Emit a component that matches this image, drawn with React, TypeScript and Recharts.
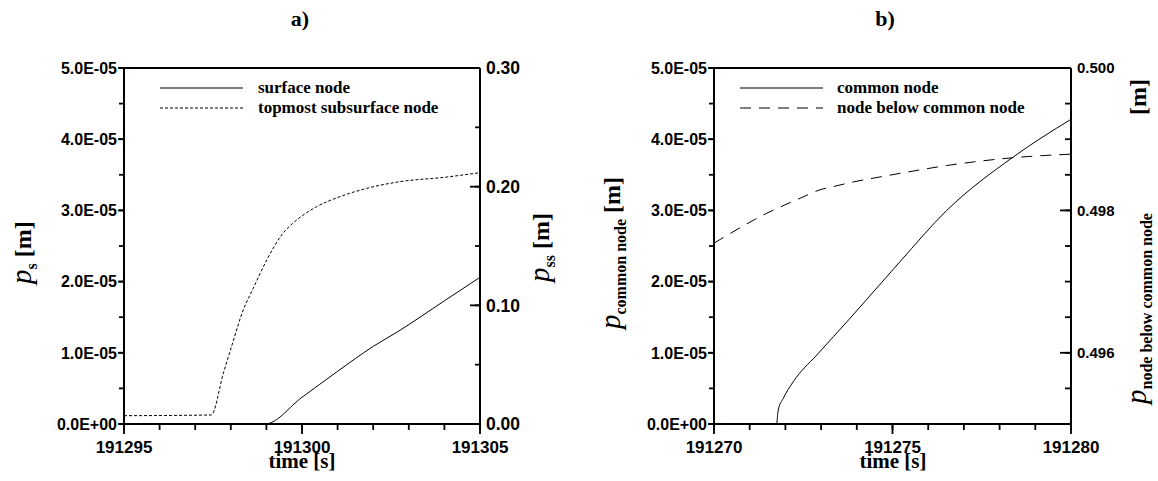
import React from "react";
import { LineChart, Line, XAxis, YAxis, ReferenceLine } from "recharts";

const SANS = '"Liberation Sans", Arial, sans-serif';
const SERIF = '"Liberation Serif", "Times New Roman", serif';

// ---- panel a) ----
const surfaceTime = [191295, 191298.96, 191300, 191301, 191302, 191302.7, 191304, 191305];
const surfaceP = [0, 0, 3.75e-6, 7.4e-6, 1.09e-5, 1.3e-5, 1.73e-5, 2.06e-5];

const subsurfaceTime = [
  191295, 191297.45, 191297.79, 191298.02, 191298.35, 191298.63, 191299.01,
  191299.43, 191299.85, 191300.41, 191301.07, 191301.82, 191302.75, 191304, 191305,
];
const subsurfaceP = [
  0.007, 0.0076, 0.0427, 0.0652, 0.0961, 0.1143, 0.1382, 0.1593, 0.1719, 0.1831,
  0.1916, 0.1986, 0.2042, 0.2079, 0.2118,
];

const xTicksA = [191295, 191296, 191297, 191298, 191299, 191300, 191301, 191302, 191303, 191304, 191305];
const xLabelsA = [191295, 191300, 191305];
const yTicksSS = [0, 0.05, 0.1, 0.15, 0.2, 0.25, 0.3];
const yLabelsSS = [0, 0.1, 0.2, 0.3];

// ---- panel b) ----
const commonTime = [
  191271.76, 191271.8, 191271.94, 191272.22, 191272.88, 191273.81, 191274.7,
  191275.21, 191276.52, 191278.38, 191280,
];
const commonP = [0, 1.97e-6, 3.6e-6, 5.94e-6, 9.69e-6, 1.484e-5, 1.99e-5, 2.28e-5, 3.0e-5, 3.75e-5, 4.28e-5];

const belowTime = [
  191270, 191271.48, 191272.41, 191272.97, 191273.39, 191273.81, 191274.65,
  191275.21, 191276.52, 191278.38, 191280,
];
const belowP = [
  0.49754, 0.49796, 0.49817, 0.49829, 0.49834, 0.49839, 0.49847, 0.49852,
  0.49863, 0.49874, 0.49879,
];

const xTicksB = [191270, 191271, 191272, 191273, 191274, 191275, 191276, 191277, 191278, 191279, 191280];
const xLabelsB = [191270, 191275, 191280];
const yTicksBelow = [0.495, 0.4955, 0.496, 0.4965, 0.497, 0.4975, 0.498, 0.4985, 0.499, 0.4995, 0.5];
const yLabelsBelow = [0.496, 0.498, 0.5];

// shared left axis
const yTicksP = [0, 5e-6, 1e-5, 1.5e-5, 2e-5, 2.5e-5, 3e-5, 3.5e-5, 4e-5, 4.5e-5, 5e-5];
const yLabelsP = [0, 1e-5, 2e-5, 3e-5, 4e-5, 5e-5];

const zip = (ts: number[], ps: number[]) => ts.map((t, i) => ({ t, p: ps[i] }));

const sci = (v: number) => {
  if (v === 0) return "0.0E+00";
  const e = Math.floor(Math.log10(Math.abs(v)) + 1e-9);
  const m = v / Math.pow(10, e);
  return `${m.toFixed(1)}E${e < 0 ? "-" : "+"}${String(Math.abs(e)).padStart(2, "0")}`;
};

type TickOpts = {
  side: "left" | "right" | "bottom";
  size: number; // the tickSize handed to recharts (minor tick length, negative = inward)
  labels: number[];
  major: number;
  fontSize: number;
  fmt: (v: number) => string;
};

const same = (a: number, b: number) => Math.abs(a - b) <= Math.abs(b) * 1e-9 + 1e-15;

// recharts draws the short ticks; this adds the long major tick and its label
const makeTick = (o: TickOpts) => (props: any) => {
  const v = Number(props.payload.value);
  if (!o.labels.some((l) => same(v, l))) return <g />;
  const font = { fill: "#000", stroke: "none", fontFamily: SANS, fontWeight: 700, fontSize: o.fontSize };
  if (o.side === "bottom") {
    const x = Number(props.x);
    const ay = Number(props.y) - o.size;
    return (
      <g>
        <path d={`M${x},${ay}L${x},${ay + o.major}`} fill="none" stroke="#000" strokeWidth={1.8} />
        <text x={x} y={ay + 29} textAnchor="middle" {...font}>
          {o.fmt(v)}
        </text>
      </g>
    );
  }
  const y = Number(props.y);
  if (o.side === "left") {
    const ax = Number(props.x) + o.size;
    return (
      <g>
        <path d={`M${ax},${y}L${ax - o.major},${y}`} fill="none" stroke="#000" strokeWidth={1.8} />
        <text x={ax - 7} y={y} dy="0.36em" textAnchor="end" {...font}>
          {o.fmt(v)}
        </text>
      </g>
    );
  }
  const ax = Number(props.x) - o.size;
  return (
    <g>
      <path d={`M${ax},${y}L${ax - o.major},${y}`} fill="none" stroke="#000" strokeWidth={1.8} />
      <text x={ax + 6} y={y} dy="0.36em" textAnchor="start" {...font}>
        {o.fmt(v)}
      </text>
    </g>
  );
};

const axisLine = { stroke: "#000", strokeWidth: 2 };
const tickLine = { stroke: "#000", strokeWidth: 1.8 };

const PanelA = () => (
  <LineChart width={580} height={481} margin={{ top: 68, right: 0, bottom: 0, left: 0 }}>
    <XAxis
      dataKey="t"
      type="number"
      domain={[191295, 191305]}
      ticks={xTicksA}
      interval={0}
      height={57}
      tickSize={6}
      tickMargin={0}
      tickLine={tickLine}
      axisLine={axisLine}
      tick={makeTick({ side: "bottom", size: 6, labels: xLabelsA, major: 10, fontSize: 17, fmt: String })}
    />
    <YAxis
      yAxisId="left"
      type="number"
      domain={[0, 5e-5]}
      ticks={yTicksP}
      interval={0}
      width={124}
      tickSize={5}
      tickMargin={0}
      tickLine={tickLine}
      axisLine={axisLine}
      tick={makeTick({ side: "left", size: 5, labels: yLabelsP, major: 6, fontSize: 16, fmt: sci })}
    />
    <YAxis
      yAxisId="right"
      orientation="right"
      type="number"
      domain={[0, 0.3]}
      ticks={yTicksSS}
      interval={0}
      width={100}
      tickSize={-5}
      tickMargin={0}
      tickLine={tickLine}
      axisLine={axisLine}
      tick={makeTick({ side: "right", size: -5, labels: yLabelsSS, major: 10, fontSize: 17.5, fmt: (v) => v.toFixed(2) })}
    />
    <ReferenceLine yAxisId="left" y={5e-5} stroke="#000" strokeWidth={2} />
    <Line
      data={zip(subsurfaceTime, subsurfaceP)}
      dataKey="p"
      yAxisId="right"
      type="monotone"
      stroke="#000"
      strokeWidth={1}
      strokeDasharray="3 2"
      dot={false}
      isAnimationActive={false}
    />
    <Line
      data={zip(surfaceTime, surfaceP)}
      dataKey="p"
      yAxisId="left"
      type="monotone"
      stroke="#000"
      strokeWidth={1}
      dot={false}
      isAnimationActive={false}
    />
  </LineChart>
);

const PanelB = () => (
  <LineChart width={578} height={481} margin={{ top: 68, right: 0, bottom: 0, left: 0 }}>
    <XAxis
      dataKey="t"
      type="number"
      domain={[191270, 191280]}
      ticks={xTicksB}
      interval={0}
      height={57}
      tickSize={6}
      tickMargin={0}
      tickLine={tickLine}
      axisLine={axisLine}
      tick={makeTick({ side: "bottom", size: 6, labels: xLabelsB, major: 10, fontSize: 17, fmt: String })}
    />
    <YAxis
      yAxisId="left"
      type="number"
      domain={[0, 5e-5]}
      ticks={yTicksP}
      interval={0}
      width={134}
      tickSize={5}
      tickMargin={0}
      tickLine={tickLine}
      axisLine={axisLine}
      tick={makeTick({ side: "left", size: 5, labels: yLabelsP, major: 6, fontSize: 16, fmt: sci })}
    />
    <YAxis
      yAxisId="right"
      orientation="right"
      type="number"
      domain={[0.495, 0.5]}
      ticks={yTicksBelow}
      interval={0}
      width={87}
      tickSize={-6}
      tickMargin={0}
      tickLine={tickLine}
      axisLine={axisLine}
      tick={makeTick({ side: "right", size: -6, labels: yLabelsBelow, major: 11, fontSize: 15, fmt: (v) => v.toFixed(3) })}
    />
    <ReferenceLine yAxisId="left" y={5e-5} stroke="#000" strokeWidth={2} />
    <Line
      data={zip(belowTime, belowP)}
      dataKey="p"
      yAxisId="right"
      type="monotone"
      stroke="#000"
      strokeWidth={1}
      strokeDasharray="11 8"
      dot={false}
      isAnimationActive={false}
    />
    <Line
      data={zip(commonTime, commonP)}
      dataKey="p"
      yAxisId="left"
      type="monotone"
      stroke="#000"
      strokeWidth={1}
      dot={false}
      isAnimationActive={false}
    />
  </LineChart>
);

const RotLabel = ({ x, y, sub, gap = 0 }: { x: number; y: number; sub: string; gap?: number }) => (
  <text
    x={x}
    y={y}
    transform={`rotate(-90 ${x} ${y})`}
    fontFamily={SERIF}
    fontWeight={700}
    fill="#000"
    textAnchor="start"
  >
    <tspan fontStyle="italic" fontWeight={400} fontSize={29}>p</tspan>
    <tspan fontSize={16} dy={6}>{sub}</tspan>
    <tspan fontSize={24} dy={-6} dx={gap}>{" [m]"}</tspan>
  </text>
);

const Overlay = () => (
  <svg
    width={1158}
    height={481}
    style={{ position: "absolute", left: 0, top: 0, pointerEvents: "none" }}
  >
    <g fontFamily={SERIF} fontWeight={700} fill="#000">
      <text x={300} y={26} fontSize={22} textAnchor="middle">a)</text>
      <text x={885} y={26} fontSize={22} textAnchor="middle">b)</text>
      <text x={302} y={468} fontSize={21} textAnchor="middle">time [s]</text>
      <text x={893} y={468} fontSize={21} textAnchor="middle">time [s]</text>
    </g>
    <RotLabel x={31} y={284} sub="s" />
    <RotLabel x={549} y={282} sub="ss" />
    <RotLabel x={620} y={329} sub="common node" />
    <RotLabel x={1146} y={404} sub="node below common node" gap={92} />

    <g stroke="#000" strokeWidth={1}>
      <line x1={160} y1={88} x2={243} y2={88} />
      <line x1={160} y1={108} x2={243} y2={108} strokeDasharray="3 2" />
      <line x1={740} y1={88} x2={823} y2={88} />
      <line x1={740} y1={108} x2={823} y2={108} strokeDasharray="11 8" />
    </g>
    <g fontFamily={SERIF} fontWeight={700} fontSize={17} fill="#000">
      <text x={258} y={93}>surface node</text>
      <text x={258} y={113}>topmost subsurface node</text>
      <text x={837} y={93}>common node</text>
      <text x={837} y={113}>node below common node</text>
    </g>
  </svg>
);

export default function App() {
  return (
    <div style={{ position: "absolute", left: 0, top: 0, width: 1158, height: 481, background: "#fff" }}>
      <div style={{ position: "absolute", left: 0, top: 0 }}>
        <PanelA />
      </div>
      <div style={{ position: "absolute", left: 580, top: 0 }}>
        <PanelB />
      </div>
      <Overlay />
    </div>
  );
}
